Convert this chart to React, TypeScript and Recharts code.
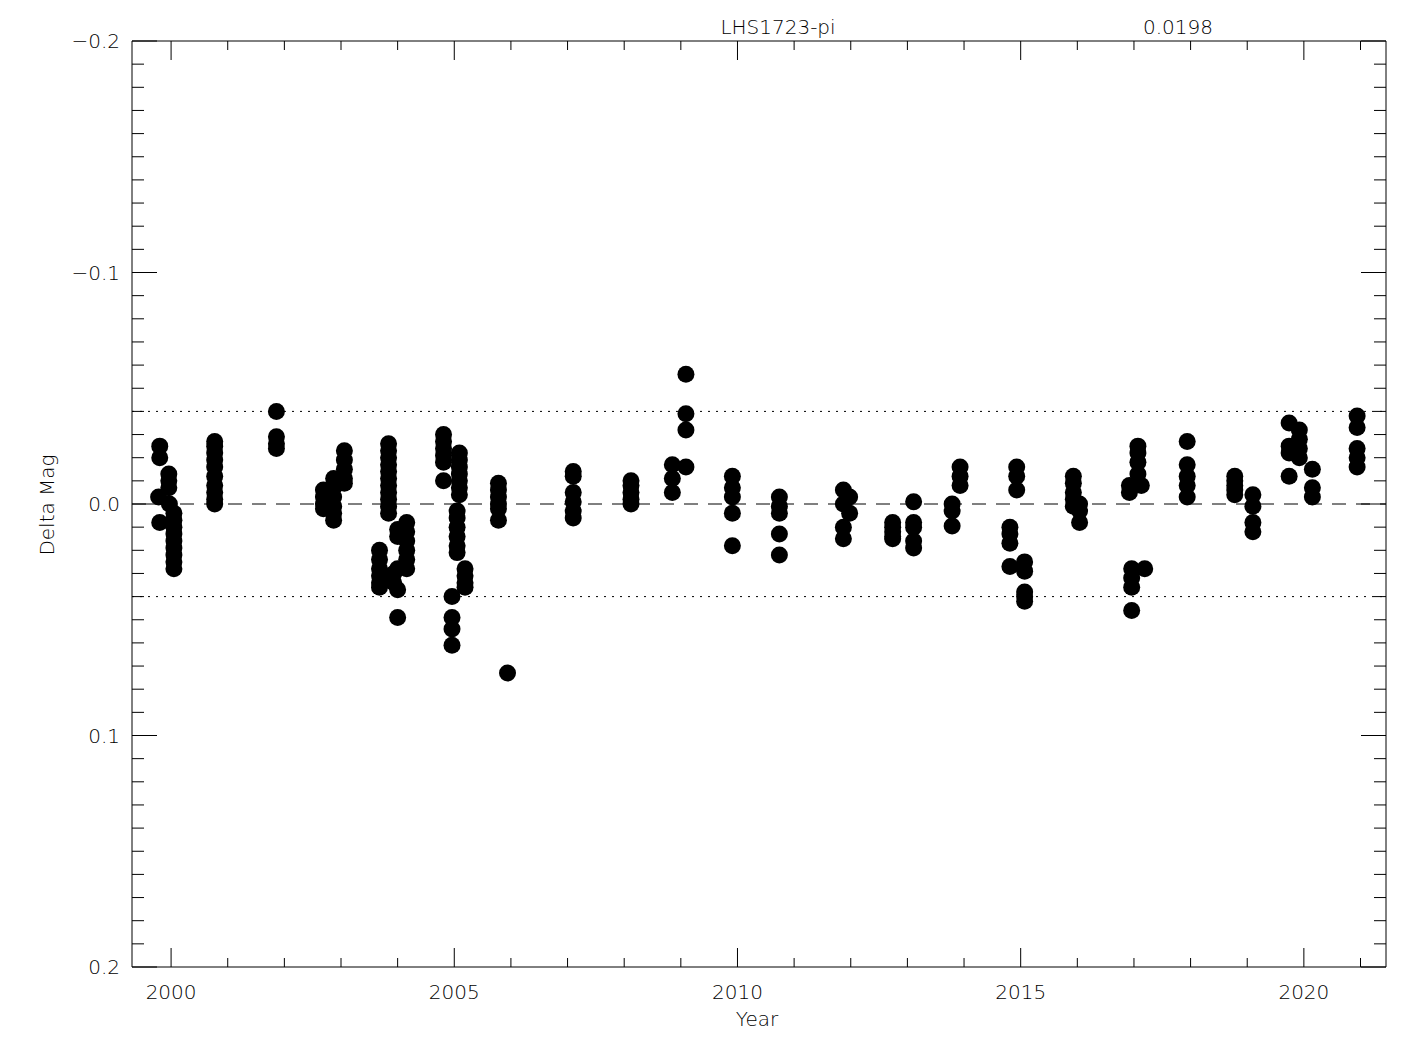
import React from 'react';
import { ComposedChart, Scatter, XAxis, YAxis, ReferenceLine } from 'recharts';

const obsYear = [
  1999.80, 1999.80, 1999.78, 1999.80,
  1999.96, 1999.96, 1999.96, 1999.97,
  2000.05, 2000.05, 2000.05, 2000.05, 2000.05, 2000.05, 2000.05, 2000.05, 2000.05,
  2000.77, 2000.77, 2000.77, 2000.77, 2000.77, 2000.77, 2000.77, 2000.77, 2000.77, 2000.77,
  2001.86, 2001.86, 2001.86, 2001.86,
  2002.69, 2002.69, 2002.69, 2002.69,
  2002.87, 2002.87, 2002.87, 2002.87, 2002.87, 2002.87,
  2003.06, 2003.06, 2003.06, 2003.06, 2003.06,
  2003.68, 2003.68, 2003.68, 2003.68, 2003.68, 2003.68,
  2003.84, 2003.84, 2003.84, 2003.84, 2003.84, 2003.84, 2003.84, 2003.84, 2003.84, 2003.84, 2003.84,
  2003.93, 2003.93, 2004.00, 2004.00, 2004.00, 2004.00, 2004.00,
  2004.16, 2004.16, 2004.16, 2004.16, 2004.16, 2004.16,
  2004.81, 2004.81, 2004.81, 2004.81, 2004.81, 2004.81,
  2004.96, 2004.96, 2004.96, 2004.96,
  2005.05, 2005.05, 2005.05, 2005.05, 2005.05, 2005.05,
  2005.09, 2005.09, 2005.09, 2005.09, 2005.09, 2005.09, 2005.09,
  2005.19, 2005.19, 2005.19, 2005.19,
  2005.78, 2005.78, 2005.78, 2005.78, 2005.78, 2005.78,
  2005.94,
  2007.10, 2007.10, 2007.10, 2007.10, 2007.10, 2007.10,
  2008.12, 2008.12, 2008.12, 2008.12, 2008.12,
  2008.85, 2008.85, 2008.85,
  2009.09, 2009.09, 2009.09, 2009.09,
  2009.91, 2009.91, 2009.91, 2009.91, 2009.91,
  2010.74, 2010.74, 2010.74, 2010.74, 2010.74,
  2011.87, 2011.87, 2011.87, 2011.87, 2011.98, 2011.98,
  2012.74, 2012.74, 2012.74, 2012.74, 2012.74,
  2013.11, 2013.11, 2013.11, 2013.11, 2013.11,
  2013.79, 2013.79, 2013.79,
  2013.93, 2013.93, 2013.93,
  2014.81, 2014.81, 2014.81, 2014.81,
  2014.93, 2014.93, 2014.93,
  2015.07, 2015.07, 2015.07, 2015.07, 2015.07,
  2015.93, 2015.93, 2015.93, 2015.93, 2015.93,
  2016.04, 2016.04, 2016.04,
  2016.92, 2016.92,
  2016.96, 2016.96, 2016.96, 2016.96,
  2017.07, 2017.07, 2017.07, 2017.07,
  2017.13, 2017.19,
  2017.94, 2017.94, 2017.94, 2017.94, 2017.94,
  2018.78, 2018.78, 2018.78, 2018.78, 2018.78,
  2019.10, 2019.10, 2019.10, 2019.10,
  2019.74, 2019.74, 2019.74, 2019.74,
  2019.92, 2019.92, 2019.92, 2019.92,
  2020.15, 2020.15, 2020.15,
  2020.94, 2020.94, 2020.94, 2020.94, 2020.94,
];

const deltaMag = [
  -0.025, -0.020, -0.003, 0.008,
  -0.013, -0.010, -0.007, 0.000,
  0.004, 0.007, 0.010, 0.013, 0.016, 0.019, 0.022, 0.025, 0.028,
  -0.027, -0.025, -0.022, -0.019, -0.016, -0.012, -0.008, -0.005, -0.002, 0.000,
  -0.040, -0.029, -0.026, -0.024,
  -0.006, -0.003, 0.000, 0.002,
  -0.011, -0.007, -0.003, 0.001, 0.004, 0.007,
  -0.023, -0.019, -0.015, -0.011, -0.009,
  0.020, 0.024, 0.028, 0.031, 0.034, 0.036,
  -0.026, -0.023, -0.020, -0.017, -0.014, -0.011, -0.008, -0.005, -0.002, 0.001, 0.004,
  0.030, 0.034, 0.011, 0.014, 0.028, 0.037, 0.049,
  0.008, 0.012, 0.016, 0.020, 0.024, 0.028,
  -0.030, -0.027, -0.024, -0.021, -0.018, -0.010,
  0.040, 0.049, 0.054, 0.061,
  0.003, 0.006, 0.010, 0.014, 0.018, 0.021,
  -0.022, -0.019, -0.016, -0.013, -0.010, -0.007, -0.004,
  0.028, 0.031, 0.034, 0.036,
  -0.009, -0.006, -0.003, 0.000, 0.002, 0.007,
  0.073,
  -0.014, -0.012, -0.005, -0.001, 0.003, 0.006,
  -0.010, -0.008, -0.005, -0.002, 0.000,
  -0.017, -0.011, -0.005,
  -0.056, -0.039, -0.032, -0.016,
  -0.012, -0.007, -0.003, 0.004, 0.018,
  -0.003, 0.001, 0.004, 0.013, 0.022,
  -0.006, 0.000, 0.010, 0.015, -0.003, 0.004,
  0.008, 0.010, 0.012, 0.014, 0.015,
  -0.001, 0.008, 0.010, 0.016, 0.019,
  0.000, 0.003, 0.0095,
  -0.016, -0.012, -0.008,
  0.010, 0.013, 0.017, 0.027,
  -0.016, -0.012, -0.006,
  0.025, 0.029, 0.038, 0.040, 0.042,
  -0.012, -0.009, -0.005, -0.002, 0.001,
  0.000, 0.003, 0.008,
  -0.008, -0.005,
  0.028, 0.032, 0.036, 0.046,
  -0.025, -0.022, -0.018, -0.013,
  -0.008, 0.028,
  -0.027, -0.017, -0.012, -0.008, -0.003,
  -0.012, -0.010, -0.008, -0.006, -0.004,
  -0.004, 0.001, 0.008, 0.012,
  -0.035, -0.025, -0.022, -0.012,
  -0.032, -0.028, -0.024, -0.020,
  -0.015, -0.007, -0.003,
  -0.038, -0.033, -0.024, -0.020, -0.016,
];

// Axis ticks
const xTicks = [2000, 2001, 2002, 2003, 2004, 2005, 2006, 2007, 2008, 2009, 2010,
  2011, 2012, 2013, 2014, 2015, 2016, 2017, 2018, 2019, 2020, 2021];
const xMajorTicks = [2000, 2005, 2010, 2015, 2020];
const yTicks = Array.from({ length: 41 }, (_, i) => Math.round((i - 20)) / 100);
const yMajorTicks = [-0.2, -0.1, 0, 0.1, 0.2];
const yMajorLabels = ['\u22120.2', '\u22120.1', '0.0', '0.1', '0.2'];
const xDomain = [1999.31, 2021.45];
const yDomain = [-0.2, 0.2];
const limitLines = [-0.04, 0.04];

const titleText = 'LHS1723-pi';
const rmsText = '0.0198';
const xTitle = 'Year';
const yTitle = 'Delta Mag';

const data = obsYear.map((x, i) => ({ x, y: deltaMag[i] }));

const FONT = '"DejaVu Sans", "Liberation Sans", sans-serif';
const FS = 20;
const INK = '#000';

const isXMajor = (v: number) => xMajorTicks.some((m) => Math.abs(m - v) < 1e-6);
const yMajorIndex = (v: number) => yMajorTicks.findIndex((m) => Math.abs(m - v) < 1e-6);

const BottomTick = (props: any) => {
  const { x, y, payload } = props;
  const major = isXMajor(payload.value);
  return (
    <g>
      <line x1={x} x2={x} y1={y} y2={y - (major ? 19 : 9)} stroke={INK} strokeWidth={1} />
      {major && (
        <text x={x} y={y + 25} textAnchor="middle" dominantBaseline="central"
          fontFamily={FONT} fontSize={FS} fontWeight={200} fill={INK}>
          {String(payload.value)}
        </text>
      )}
    </g>
  );
};

const TopTick = (props: any) => {
  const { x, y, payload } = props;
  const major = isXMajor(payload.value);
  return <line x1={x} x2={x} y1={y} y2={y + (major ? 19 : 9)} stroke={INK} strokeWidth={1} />;
};

const LeftTick = (props: any) => {
  const { x, y, payload } = props;
  const idx = yMajorIndex(payload.value);
  const major = idx >= 0;
  return (
    <g>
      <line x1={x} x2={x + (major ? 25 : 12)} y1={y} y2={y} stroke={INK} strokeWidth={1} />
      {major && (
        <text x={x - 12} y={y} textAnchor="end" dominantBaseline="central"
          fontFamily={FONT} fontSize={FS} fontWeight={200} fill={INK}>
          {yMajorLabels[idx]}
        </text>
      )}
    </g>
  );
};

const RightTick = (props: any) => {
  const { x, y, payload } = props;
  const major = yMajorIndex(payload.value) >= 0;
  return <line x1={x} x2={x - (major ? 25 : 12)} y1={y} y2={y} stroke={INK} strokeWidth={1} />;
};

const Dot = (props: any) => {
  const { cx, cy } = props;
  if (cx == null || cy == null) return null;
  return <circle cx={cx} cy={cy} r={8.5} fill={INK} />;
};

export default function App() {
  return (
    <div style={{ width: 1409, height: 1034 }}>
      <ComposedChart width={1409} height={1034} data={data}
        margin={{ top: 32, right: 30, bottom: 15, left: 0 }}>
        <XAxis xAxisId="b" dataKey="x" type="number" domain={xDomain} allowDataOverflow
          ticks={xTicks} interval={0} tickSize={0} tickMargin={0} tickLine={false}
          tick={<BottomTick />} height={60} orientation="bottom"
          axisLine={{ stroke: INK, strokeWidth: 1 }} />
        <XAxis xAxisId="t" dataKey="x" type="number" domain={xDomain} allowDataOverflow
          ticks={xTicks} interval={0} tickSize={0} tickMargin={0} tickLine={false}
          tick={<TopTick />} height={1} orientation="top"
          axisLine={{ stroke: INK, strokeWidth: 1 }} />
        <YAxis yAxisId="l" dataKey="y" type="number" domain={yDomain} allowDataOverflow reversed
          ticks={yTicks} interval={0} tickSize={0} tickMargin={0} tickLine={false}
          tick={<LeftTick />} width={124} orientation="left"
          axisLine={{ stroke: INK, strokeWidth: 1 }} />
        <YAxis yAxisId="r" dataKey="y" type="number" domain={yDomain} allowDataOverflow reversed
          ticks={yTicks} interval={0} tickSize={0} tickMargin={0} tickLine={false}
          tick={<RightTick />} width={1} orientation="right"
          axisLine={{ stroke: INK, strokeWidth: 1 }} />
        <ReferenceLine xAxisId="b" yAxisId="l" y={0} stroke={INK} strokeWidth={1}
          strokeDasharray="14 10" />
        {limitLines.map((v) => (
          <ReferenceLine key={v} xAxisId="b" yAxisId="l" y={v} stroke={INK} strokeWidth={1}
            strokeDasharray="2 6" />
        ))}
        <Scatter xAxisId="b" yAxisId="l" data={data} dataKey="y" fill={INK}
          shape={<Dot />} isAnimationActive={false} />
        <text x={770} y={19} textAnchor="middle" dominantBaseline="central"
          fontFamily={FONT} fontSize={FS} fontWeight={200} fill={INK}>{titleText}</text>
        <text x={1170} y={19} textAnchor="middle" dominantBaseline="central"
          fontFamily={FONT} fontSize={FS} fontWeight={200} fill={INK}>{rmsText}</text>
        <text x={749} y={1011} textAnchor="middle" dominantBaseline="central"
          fontFamily={FONT} fontSize={FS} fontWeight={200} fill={INK}>{xTitle}</text>
        <text x={39} y={497} textAnchor="middle" dominantBaseline="central"
          transform="rotate(-90 39 497)"
          fontFamily={FONT} fontSize={FS} fontWeight={200} fill={INK}>{yTitle}</text>
      </ComposedChart>
    </div>
  );
}
